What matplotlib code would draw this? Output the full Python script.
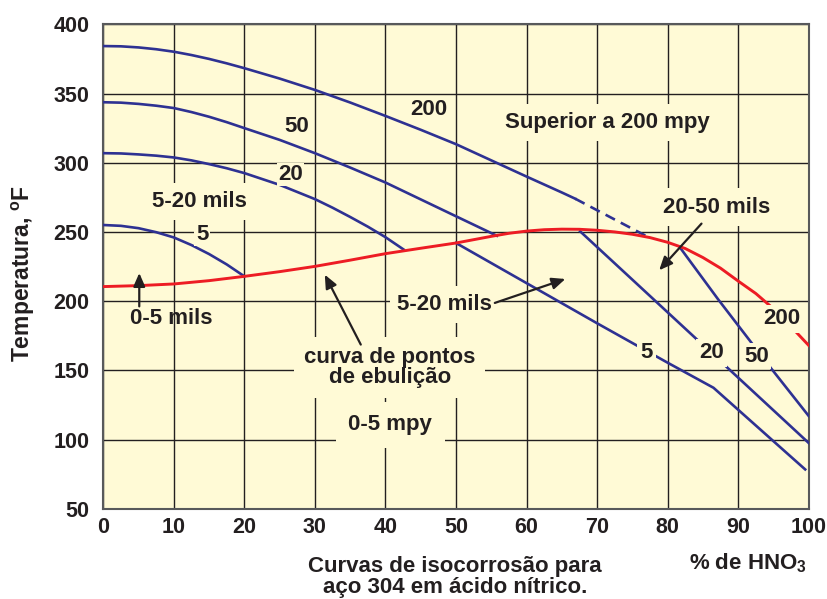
import matplotlib
matplotlib.use("Agg")
import matplotlib.pyplot as plt

# Isocorrosion curves for type 304 steel in nitric acid
plt.rcParams['font.family'] = ['Liberation Sans', 'DejaVu Sans']
plt.rcParams['font.weight'] = 'bold'
plt.rcParams['mathtext.fontset'] = 'custom'
plt.rcParams['mathtext.rm'] = 'Liberation Sans:bold'
plt.rcParams['mathtext.bf'] = 'Liberation Sans:bold'
plt.rcParams['mathtext.default'] = 'rm'

# curves left of the boiling line (% HNO3, temperature F)
x_200 = [0, 2.5, 5, 7.5, 10, 12.5, 15, 17.5, 20, 25, 30, 35, 40, 45, 50, 55, 60, 65, 66.9]
y_200 = [384.3, 384.1, 383.3, 382.0, 380.2, 377.8, 375.0, 371.8, 368.3, 360.8, 352.6, 343.5,
         333.8, 323.8, 313.4, 301.7, 290.0, 278.5, 274.0]
x_200_dash = [66.9, 72, 77.5]
y_200_dash = [274.0, 260.3, 245.6]

x_50 = [0, 2.5, 5, 7.5, 10, 12.5, 15, 17.5, 20, 25, 30, 35, 40, 45, 50, 55.8]
y_50 = [343.7, 343.4, 342.5, 341.2, 339.5, 336.6, 333.2, 329.3, 325.0, 316.5, 306.9, 296.5,
        285.7, 273.5, 261.3, 247.2]

x_20 = [0, 2.5, 5, 7.5, 10, 12.5, 15, 17.5, 20, 25, 30, 32.5, 35, 37.5, 40, 42.6]
y_20 = [306.9, 306.7, 306.0, 305.1, 303.8, 301.7, 299.0, 296.0, 292.5, 284.0, 273.7, 267.5,
        260.8, 253.8, 246.2, 237.2]

x_5 = [0, 2.5, 5, 7.5, 10, 12.5, 15, 17.5, 20]
y_5 = [255.0, 254.4, 252.7, 249.8, 246.0, 240.5, 234.0, 226.5, 217.9]

# curves right of the boiling line
x_5r = [50, 60, 70, 80, 86.5, 90, 95, 99.5]
y_5r = [242.0, 213.0, 184.0, 155.5, 137.4, 121.5, 98.8, 78.4]

x_20r = [67.6, 75, 80, 85, 90, 95, 100]
y_20r = [250.4, 215.5, 191.9, 168.3, 144.7, 121.1, 97.5]

x_50r = [81.8, 87.2, 91.9, 94.5, 100]
y_50r = [238.4, 201.0, 169.8, 152.5, 117.0]

# boiling point curve
x_boil = [0, 5, 10, 15, 20, 25, 30, 35, 40, 45, 50, 55, 57.5, 60, 62.5, 65, 67.5, 70, 72.5,
          75, 77.5, 80, 82.5, 85, 87.5, 90, 92.5, 95, 97.5, 100]
y_boil = [210.5, 211.2, 212.4, 214.8, 217.9, 221.3, 225.1, 229.6, 234.3, 238.2, 242.0, 246.8,
          249.0, 250.6, 251.6, 252.0, 251.9, 251.2, 250.0, 248.3, 245.9, 242.5, 238.0, 231.5,
          223.8, 214.5, 205.5, 194.5, 181.5, 168.0]

x_ticks = [0, 10, 20, 30, 40, 50, 60, 70, 80, 90, 100]
y_ticks = [50, 100, 150, 200, 250, 300, 350, 400]

blue = '#2e3192'
red = '#ed1c24'
ink = '#231f20'
paper = '#fffad6'

fig = plt.figure(figsize=(8.27, 5.99), dpi=100)
ax = fig.add_axes([0.1249, 0.1507, 0.853, 0.8087])
ax.set_facecolor(paper)
ax.set_xlim(0, 100)
ax.set_ylim(50, 400)
ax.set_xticks(x_ticks)
ax.set_yticks(y_ticks)
ax.tick_params(length=0, labelsize=15.5, colors=ink)
ax.tick_params(axis='x', pad=6)
ax.tick_params(axis='y', pad=10)
ax.grid(True, color=ink, lw=1.0)
ax.set_axisbelow(True)
for s in ax.spines.values():
    s.set_color('#58595b')
    s.set_linewidth(1.5)

lw_b = 1.9
ax.plot(x_200, y_200, color=blue, lw=lw_b, zorder=3)
ax.plot(x_200_dash, y_200_dash, color=blue, lw=lw_b, ls=(0, (4, 2.5)), zorder=3)
ax.plot(x_50, y_50, color=blue, lw=lw_b, zorder=3)
ax.plot(x_20, y_20, color=blue, lw=lw_b, zorder=3)
ax.plot(x_5, y_5, color=blue, lw=lw_b, zorder=3)
ax.plot(x_5r, y_5r, color=blue, lw=lw_b, zorder=3)
ax.plot(x_20r, y_20r, color=blue, lw=lw_b, zorder=3)
ax.plot(x_50r, y_50r, color=blue, lw=lw_b, zorder=3)
ax.plot(x_boil, y_boil, color=red, lw=2.1, zorder=4)

fs = 16
def label(x, y, s, padx=0.15, **kw):
    ax.text(x, y, s, fontsize=fs, color=ink, ha='center', va='center', zorder=6,
            bbox=dict(boxstyle='square,pad=%.2f' % padx, fc=paper, ec='none'), **kw)

# curve labels
label(27.4, 326.1, '50', padx=0.05)
label(26.6, 291.3, '20', padx=0.05)
label(46.1, 338.2, '200', padx=0.05)
label(14.0, 248.5, '5', padx=0.08)
label(77.0, 162.6, '5', padx=0.15)
label(86.2, 162.6, '20', padx=0.15)
label(92.6, 160.2, '50', padx=0.1)
label(96.2, 187.2, '200', padx=0.15)

# region labels
label(13.7, 272.0, '5-20 mils', padx=0.35)
label(71.5, 329.0, 'Superior a 200 mpy', padx=0.35)
label(87.0, 268.0, '20-50 mils', padx=0.4)
label(48.4, 197.5, '5-20 mils', padx=0.35)
label(40.6, 151.8, 'curva de pontos\nde ebulição', padx=0.45, linespacing=0.95)
label(40.7, 110.5, '0-5 mpy', padx=0.55)
ax.text(9.7, 187.2, '0-5 mils', fontsize=fs, color=ink, ha='center', va='center', zorder=6)

arrow = dict(arrowstyle='-|>,head_length=0.8,head_width=0.35', color=ink, lw=1.6, shrinkA=0, shrinkB=0)
ax.annotate('', xy=(5.1, 220.3), xytext=(5.1, 196.2), arrowprops=arrow, zorder=7)
ax.annotate('', xy=(31.4, 219.1), xytext=(36.5, 168.6), arrowprops=arrow, zorder=7)
ax.annotate('', xy=(65.5, 216.0), xytext=(55.5, 198.7), arrowprops=arrow, zorder=7)
ax.annotate('', xy=(78.8, 222.3), xytext=(84.8, 256.0), arrowprops=arrow, zorder=7)

# axis titles and caption
fig.text(23 / 827, 1 - 273 / 599, 'Temperatura, $^{o}$F', rotation=90, fontsize=16.5,
         color=ink, ha='center', va='center')
fig.text(748 / 827, 1 - 563 / 599, '% de HNO$_{3}$', fontsize=16, color=ink,
         ha='center', va='center')
fig.text(455 / 827, 1 - 577 / 599, 'Curvas de isocorrosão para\naço 304 em ácido nítrico.',
         fontsize=16, color=ink, ha='center', va='center', linespacing=1.05)

fig.savefig('out.png', dpi=100)
